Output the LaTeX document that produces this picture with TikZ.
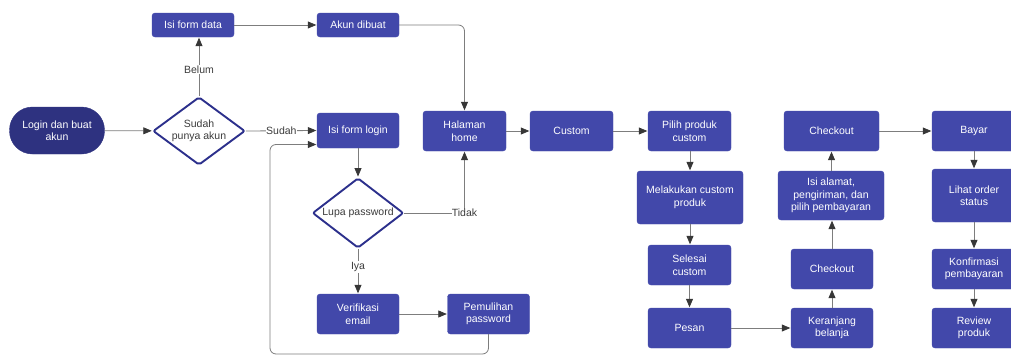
\documentclass[tikz,border=0pt]{standalone}
\usepackage{fontspec}
\setmainfont{Liberation Sans}
\usetikzlibrary{arrows.meta,shapes.geometric}
\definecolor{boxc}{RGB}{66,72,170}
\definecolor{startc}{RGB}{46,50,128}
\definecolor{diamc}{RGB}{44,48,140}
\definecolor{linec}{RGB}{125,125,125}
\definecolor{tipc}{RGB}{55,55,55}
\definecolor{lblc}{RGB}{60,60,60}
\tikzset{
  x=1pt, y=-1pt,
  every node/.style={font=\fontsize{10.5}{12.5}\selectfont},
  box/.style={rectangle, rounded corners=3pt, fill=boxc, draw=boxc,
    text=white, align=center, inner sep=0pt, minimum width=82pt, minimum height=40pt},
  startbox/.style={rectangle, rounded corners=23pt, fill=startc, draw=startc,
    text=white, align=center, inner sep=0pt, minimum width=95pt, minimum height=47pt},
  decision/.style={diamond, draw=diamc, line width=1.9pt, fill=white,
    inner sep=0pt, rounded corners=2pt},
  conn/.style={draw=linec, line width=0.8pt,
    -{Triangle[length=8.5pt,width=7pt,color=tipc]}, shorten >=0.5pt},
  lbl/.style={fill=white, text=lblc, inner sep=1pt},
}
\begin{document}
\begin{tikzpicture}
\useasboundingbox (0,0) rectangle (1011,356);

% registration / login
\node[startbox] (start) at (57,130.5) {Login dan buat\\akun};
\node[decision, minimum width=92pt, minimum height=68pt,
  label={[text=lblc, align=center]center:Sudah\\punya akun}] (punya) at (199,131) {};
\node[box, minimum height=24pt] (formdata) at (193,25) {Isi form data};
\node[box, minimum height=24pt] (akun) at (358,25) {Akun dibuat};
\node[box, minimum height=35pt] (formlogin) at (358,130.5) {Isi form login};
\node[decision, minimum width=91pt, minimum height=70pt,
  label={[text=lblc]center:Lupa password}] (lupa) at (358,213) {};
\node[box] (verif) at (358,314) {Verifikasi\\email};
\node[box] (pulih) at (488.5,314) {Pemulihan\\password};
\node[box, minimum width=83pt] (home) at (464.5,131) {Halaman\\home};

% shopping flow
\node[box, minimum width=83pt] (custom) at (571.5,131) {Custom};
\node[box, minimum width=83pt] (pilih) at (689.5,131) {Pilih produk\\custom};
\node[box, minimum width=106pt, minimum height=53pt] (lakukan) at (690,197.5) {Melakukan custom\\produk};
\node[box, minimum width=83pt] (selesai) at (689.5,265) {Selesai\\custom};
\node[box, minimum width=83pt] (pesan) at (689.5,328) {Pesan};
\node[box] (keranjang) at (832,328) {Keranjang\\belanja};
\node[box] (checkoutb) at (832,269) {Checkout};
\node[box, minimum width=106pt, minimum height=49pt] (alamat) at (831,195.5) {Isi alamat,\\pengiriman, dan\\pilih pembayaran};
\node[box, minimum width=95pt] (checkouta) at (831.5,131) {Checkout};
\node[box, minimum width=84pt] (bayar) at (974,131) {Bayar};
\node[box, minimum width=84pt, minimum height=53pt] (lihat) at (974,195.5) {Lihat order\\status};
\node[box, minimum width=84pt] (konfirmasi) at (974,269) {Konfirmasi\\pembayaran};
\node[box, minimum width=84pt] (review) at (974,328) {Review\\produk};

\coordinate (loopcorner) at (270,354);

% connectors
\draw[conn] (start) -- (punya);
\draw[conn] (punya.north) -- node[lbl, pos=0.45] {Belum} (punya.north |- formdata.south);
\draw[conn] (formdata) -- (akun);
\draw[conn, rounded corners=6pt] (akun.east) -| (home.north);
\draw[conn] (punya.east) -- node[lbl, inner sep=0pt] {Sudah} (formlogin.west);
\draw[conn] (formlogin) -- (lupa);
\draw[conn] (lupa.east) -| node[lbl, inner sep=0pt] {Tidak} (home.south);
\draw[conn] (lupa.south) -- node[lbl, pos=0.4] {Iya} (verif.north);
\draw[conn] (verif) -- (pulih);
\draw[conn, rounded corners=6pt] (pulih.south) |- (loopcorner) |- ([yshift=-14pt]formlogin.west);
\draw[conn] (home) -- (custom);
\draw[conn] (custom) -- (pilih);
\draw[conn] (pilih.south -| lakukan.north) -- (lakukan.north);
\draw[conn] (lakukan.south) -- (lakukan.south |- selesai.north);
\draw[conn] (selesai) -- (pesan);
\draw[conn] (pesan) -- (keranjang);
\draw[conn] (keranjang) -- (checkoutb);
\draw[conn] (checkoutb) -- (checkoutb.north |- alamat.south);
\draw[conn] (alamat.north -| checkouta.south) -- (checkouta.south);
\draw[conn] (checkouta) -- (bayar);
\draw[conn] (bayar) -- (lihat);
\draw[conn] (lihat) -- (konfirmasi);
\draw[conn] (konfirmasi) -- (review);
\end{tikzpicture}
\end{document}
